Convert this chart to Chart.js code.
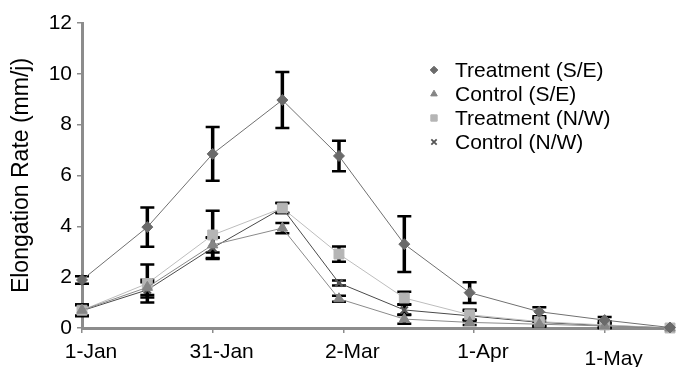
<!DOCTYPE html>
<html><head><meta charset="utf-8">
<script src="https://cdn.jsdelivr.net/npm/chart.js@4.4.1/dist/chart.umd.min.js"></script>
<style>html,body{margin:0;padding:0;background:#fff}#wrap{width:678px;height:367px;position:relative}canvas{display:block}</style>
</head><body><div id="wrap"><canvas id="c" width="678" height="367"></canvas></div>
<script>
// Sampling dates as days since 1-Jan
const days = [0, 15, 30, 46, 59, 74, 89, 105, 120, 135];
const tickDays = [0, 30, 60, 90, 120];
const tickLabels = ['1-Jan', '31-Jan', '2-Mar', '1-Apr', '1-May'];
const yTicks = [0, 2, 4, 6, 8, 10, 12];

const seriesNames = ['Treatment (S/E)', 'Control (S/E)', 'Treatment (N/W)', 'Control (N/W)'];

const treatSE    = [1.89, 3.97, 6.85, 8.97, 6.77, 3.30, 1.39, 0.64, 0.31, 0.02];
const treatSEErr = [0.15, 0.77, 1.06, 1.10, 0.60, 1.10, 0.41, 0.18, 0.12, 0];

const ctrlSE     = [0.70, 1.60, 3.27, 3.93, 1.15, 0.35, 0.22, 0.15, 0.08, 0];
const ctrlSEErr  = [0.22, 0.30, 0.30, 0.20, 0.12, 0.18, 0.10, 0.10, 0.05, 0];

const treatNW    = [0.70, 1.75, 3.66, 4.72, 2.91, 1.18, 0.52, 0.25, 0.12, 0];
const treatNWErr = [0.22, 0.75, 0.95, 0.20, 0.30, 0.25, 0.20, 0.15, 0.15, 0];

const ctrlNW     = [0.68, 1.50, 3.15, 4.72, 1.77, 0.71, 0.48, 0.22, 0.10, 0];
const ctrlNWErr  = [0.22, 0.30, 0.40, 0.20, 0.10, 0.20, 0.20, 0.15, 0.10, 0];

const seriesVals = [treatSE, ctrlSE, treatNW, ctrlNW];
const seriesErrs = [treatSEErr, ctrlSEErr, treatNWErr, ctrlNWErr];

const FONT = '"Liberation Sans", Arial, Helvetica, sans-serif';

const styles = [
  {pointStyle: 'rectRot', radius: 5.5, fill: '#6a6a6a', border: '#6a6a6a', line: '#707070', bw: 1},
  {pointStyle: 'triangle', radius: 6, fill: '#858585', border: '#858585', line: '#8a8a8a', bw: 1},
  {pointStyle: 'rect', radius: 7, fill: '#b5b5b5', border: '#b5b5b5', line: '#bdbdbd', bw: 1},
  {pointStyle: 'crossRot', radius: 5, fill: '#555555', border: '#555555', line: '#4a4a4a', bw: 2.2}
];

const datasets = seriesVals.map((vals, i) => ({
  label: seriesNames[i],
  data: days.map((d, j) => ({x: d, y: vals[j]})),
  borderColor: styles[i].line,
  borderWidth: 1,
  pointStyle: styles[i].pointStyle,
  pointRadius: styles[i].radius,
  pointBackgroundColor: styles[i].fill,
  pointBorderColor: styles[i].border,
  pointBorderWidth: styles[i].bw,
  tension: 0,
  fill: false,
  clip: false
}));

const errorBars = {
  id: 'errorBars',
  beforeDatasetsDraw(chart) {
    const {ctx, scales: {x, y}} = chart;
    ctx.save();
    ctx.strokeStyle = '#000';
    seriesErrs.forEach((errs, si) => {
      const vals = seriesVals[si];
      days.forEach((d, i) => {
        const e = errs[i];
        if (!e) return;
        const px = x.getPixelForValue(d);
        const top = y.getPixelForValue(vals[i] + e);
        const bot = y.getPixelForValue(Math.max(0, vals[i] - e));
        ctx.lineWidth = 3.5;
        ctx.beginPath(); ctx.moveTo(px, top); ctx.lineTo(px, bot); ctx.stroke();
        ctx.lineWidth = 2.5;
        ctx.beginPath();
        ctx.moveTo(px - 7, top); ctx.lineTo(px + 7, top);
        ctx.moveTo(px - 7, bot); ctx.lineTo(px + 7, bot);
        ctx.stroke();
      });
    });
    ctx.restore();
  }
};

const legendBox = {
  id: 'legendBox',
  afterDraw(chart) {
    const ctx = chart.ctx;
    ctx.save();
    chart.data.datasets.forEach((ds, i) => {
      const yy = 70 + i * 24;
      ctx.fillStyle = ds.pointBackgroundColor;
      ctx.strokeStyle = ds.pointBorderColor;
      ctx.lineWidth = i === 3 ? 1.8 : 1;
      Chart.helpers.drawPoint(ctx, {pointStyle: ds.pointStyle, radius: i === 2 ? 4.5 : 3.8, borderWidth: ctx.lineWidth, rotation: 0}, 434, yy);
      ctx.fillStyle = '#000';
      ctx.font = '21px ' + FONT;
      ctx.textBaseline = 'middle';
      ctx.textAlign = 'left';
      ctx.fillText(ds.label, 455, yy + 1);
    });
    ctx.restore();
  }
};

new Chart(document.getElementById('c'), {
  type: 'line',
  data: {datasets},
  options: {
    responsive: false,
    animation: false,
    devicePixelRatio: 1,
    layout: {padding: {top: 23, right: 1, left: 0, bottom: 0}},
    plugins: {legend: {display: false}, tooltip: {enabled: false}},
    scales: {
      x: {
        type: 'linear',
        min: 0, max: 135,
        afterFit(s) { s.height = 39; },
        afterBuildTicks(s) { s.ticks = tickDays.map(v => ({value: v})); },
        grid: {drawOnChartArea: false, drawTicks: true, tickLength: 5, color: '#8c8c8c', lineWidth: 1.5},
        border: {display: true, color: '#8c8c8c', width: 3},
        ticks: {
          color: '#000',
          padding: 7,
          labelOffset: 9,
          maxRotation: 0,
          autoSkip: false,
          font: (c) => (c.tick && c.tick.value === 120) ? {family: FONT, size: 21, lineHeight: 0.62} : {family: FONT, size: 21},
          callback: (v) => {
            const k = tickDays.indexOf(v);
            if (k < 0) return '';
            return v === 120 ? ['', tickLabels[k]] : tickLabels[k];
          }
        }
      },
      y: {
        min: 0, max: 12,
        afterFit(s) { s.width = 82; },
        afterBuildTicks(s) { s.ticks = yTicks.map(v => ({value: v})); },
        grid: {drawOnChartArea: false, drawTicks: true, tickLength: 5, color: '#8c8c8c', lineWidth: 1.5},
        border: {display: true, color: '#8c8c8c', width: 3},
        ticks: {color: '#000', padding: 5, font: {family: FONT, size: 21}},
        title: {
          display: true,
          text: 'Elongation Rate (mm/j)',
          color: '#000',
          font: {family: FONT, size: 23},
          padding: {top: 8, bottom: 0}
        }
      }
    }
  },
  plugins: [errorBars, legendBox]
});
</script>
</body></html>
